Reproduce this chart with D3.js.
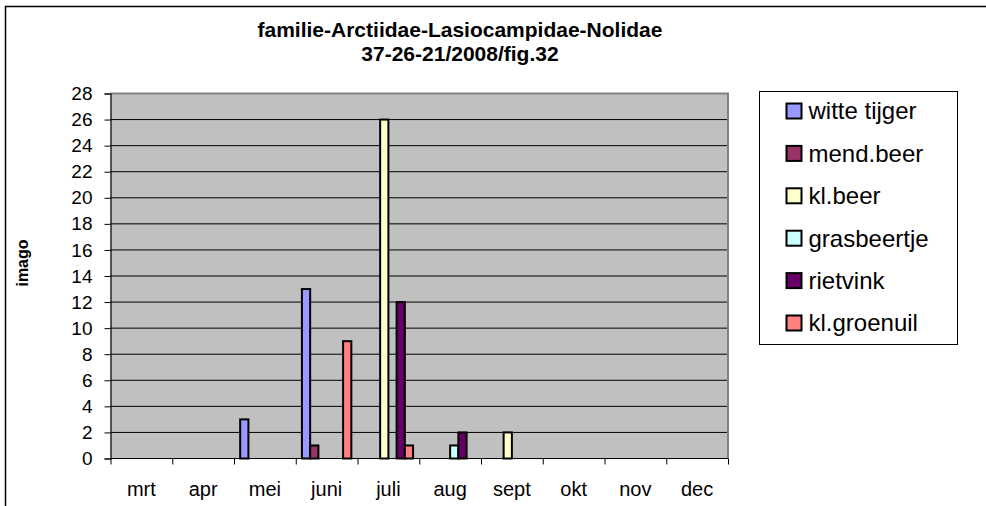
<!DOCTYPE html>
<html>
<head>
<meta charset="utf-8">
<script src="https://cdn.jsdelivr.net/npm/d3@7"></script>
<style>
  html, body { margin: 0; padding: 0; background: #fff; }
  svg { display: block; font-family: "Liberation Sans", Arial, sans-serif; }
</style>
</head>
<body>
<svg id="chart" width="986" height="506"></svg>
<script>
const maanden = ["mrt", "apr", "mei", "juni", "juli", "aug", "sept", "okt", "nov", "dec"];
const soorten = ["witte tijger", "mend.beer", "kl.beer", "grasbeertje", "rietvink", "kl.groenuil"];
const kleuren = ["#9999FF", "#993366", "#FFFFCC", "#CCFFFF", "#660066", "#FF8080"];

// aantallen per soort, per maand (mrt..dec)
const witteTijger = [0, 0, 3, 13, 0, 0, 0, 0, 0, 0];
const mendBeer    = [0, 0, 0, 1, 0, 0, 0, 0, 0, 0];
const klBeer      = [0, 0, 0, 0, 26, 0, 2, 0, 0, 0];
const grasbeertje = [0, 0, 0, 0, 0, 1, 0, 0, 0, 0];
const rietvink    = [0, 0, 0, 0, 12, 2, 0, 0, 0, 0];
const klGroenuil  = [0, 0, 0, 9, 1, 0, 0, 0, 0, 0];
const yTicks = d3.range(0, 29, 2);

const reeksen = [witteTijger, mendBeer, klBeer, grasbeertje, rietvink, klGroenuil];

const svg = d3.select("#chart");
const margens = { left: 110.5, right: 258, top: 93.5, bottom: 47.5 };
const width = 986 - margens.left - margens.right;
const height = 506 - margens.top - margens.bottom;

// rand rond de hele grafiek
svg.append("rect")
  .attr("x", 5.5).attr("y", 6.5)
  .attr("width", 1000).attr("height", 520)
  .attr("fill", "none").attr("stroke", "#000").attr("stroke-width", 1.5);

// titel
const titel = svg.append("text")
  .attr("text-anchor", "middle")
  .attr("font-weight", "bold")
  .attr("font-size", "21px");
titel.append("tspan").attr("x", 460).attr("y", 37).text("familie-Arctiidae-Lasiocampidae-Nolidae");
titel.append("tspan").attr("x", 460).attr("y", 61).text("37-26-21/2008/fig.32");

const x0 = d3.scaleBand().domain(maanden).range([0, width]).paddingInner(0.2).paddingOuter(0.1);
const x1 = d3.scaleBand().domain(soorten).range([0, x0.bandwidth()]);
const xGrens = d3.scaleLinear().domain([0, maanden.length]).range([0, width]);
const y = d3.scaleLinear().domain([0, 28]).range([height, 0]);
const kleur = d3.scaleOrdinal().domain(soorten).range(kleuren);

const g = svg.append("g").attr("transform", `translate(${margens.left},${margens.top})`);

g.append("rect")
  .attr("width", width).attr("height", height)
  .attr("fill", "#C0C0C0");

// rasterlijnen
g.selectAll(".grid")
  .data(yTicks.filter((d) => d > 0 && d < 28))
  .enter()
  .append("line")
  .attr("x1", 0).attr("x2", width)
  .attr("y1", (d) => y(d)).attr("y2", (d) => y(d))
  .attr("stroke", "#000").attr("stroke-width", 1);

// grijze kader boven en rechts
g.append("path")
  .attr("d", `M0,0H${width}V${height}`)
  .attr("fill", "none").attr("stroke", "#808080").attr("stroke-width", 2);

// staven
const data = [];
maanden.forEach((m, i) => {
  soorten.forEach((s, j) => {
    data.push({ maand: m, soort: s, waarde: reeksen[j][i] });
  });
});

g.selectAll(".bar")
  .data(data.filter((d) => d.waarde > 0))
  .enter()
  .append("rect")
  .attr("class", "bar")
  .attr("x", (d) => x0(d.maand) + x1(d.soort))
  .attr("y", (d) => y(d.waarde))
  .attr("width", x1.bandwidth())
  .attr("height", (d) => height - y(d.waarde))
  .attr("fill", (d) => kleur(d.soort))
  .attr("stroke", "#000")
  .attr("stroke-width", 2);

// y-as
const yAs = g.append("g")
  .call(d3.axisLeft(y).tickValues(yTicks).tickSize(6).tickPadding(12));
yAs.select(".domain").attr("stroke", "#000").attr("stroke-width", 1.2);
yAs.selectAll(".tick line").attr("stroke", "#000");
yAs.selectAll("text").attr("font-size", "19px").attr("font-family", "Liberation Sans, Arial, sans-serif").attr("fill", "#000");

// x-as: streepjes op de grenzen, labels in het midden
const xAs = g.append("g")
  .attr("transform", `translate(0,${height})`)
  .call(d3.axisBottom(xGrens).tickValues(d3.range(0, maanden.length + 1)).tickSize(6).tickFormat(""));
xAs.select(".domain").attr("d", `M0,0H${width}`).attr("stroke", "#000").attr("stroke-width", 1.2);
xAs.selectAll(".tick line").attr("stroke", "#000");

const xLabels = g.append("g")
  .attr("transform", `translate(0,${height})`)
  .call(d3.axisBottom(x0).tickSize(0).tickPadding(23));
xLabels.select(".domain").remove();
xLabels.selectAll("text").attr("font-size", "20px").attr("font-family", "Liberation Sans, Arial, sans-serif").attr("fill", "#000");

// y-as titel
svg.append("text")
  .attr("transform", "translate(28,263) rotate(-90)")
  .attr("text-anchor", "middle")
  .attr("font-weight", "bold")
  .attr("font-size", "16px")
  .text("imago");

// legenda
const legenda = svg.append("g").attr("transform", "translate(759.5,91.5)");
legenda.append("rect")
  .attr("width", 198).attr("height", 253)
  .attr("fill", "#fff").attr("stroke", "#000").attr("stroke-width", 1);

soorten.forEach((s, i) => {
  const rij = legenda.append("g").attr("transform", `translate(0,${19.5 + i * 42.4})`);
  rij.append("rect")
    .attr("x", 27).attr("y", -7.5)
    .attr("width", 15).attr("height", 15)
    .attr("fill", kleur(s)).attr("stroke", "#000").attr("stroke-width", 2);
  rij.append("text")
    .attr("x", 49).attr("y", 0).attr("dy", "0.35em")
    .attr("font-size", "24px")
    .text(s);
});
</script>
</body>
</html>
